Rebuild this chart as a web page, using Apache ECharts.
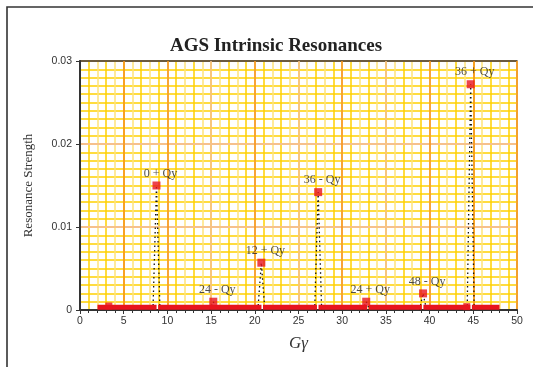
<!DOCTYPE html>
<html>
<head>
<meta charset="utf-8">
<script src="https://cdn.jsdelivr.net/npm/echarts@6/dist/echarts.min.js"></script>
<style>
html,body{margin:0;padding:0;background:#fff;overflow:hidden;}
#chart{width:533px;height:367px;}
</style>
</head>
<body>
<div id="chart"></div>
<script>
// ---- data ----
var peakNames = ['0 + Qy', '24 - Qy', '12 + Qy', '36 - Qy', '24 + Qy', '48 - Qy', '36 + Qy'];
var peakGg = [8.75, 15.25, 20.75, 27.25, 32.75, 39.25, 44.7];
var peakStrength = [0.0150, 0.0010, 0.0057, 0.0142, 0.0010, 0.0020, 0.0272];
var minorGg = [3.3, 44.25];
var minorStrength = [0.00048, 0.0004];
var bandStart = 2.0;
var bandEnd = 48.0;
var bandLevel = 0.00033;
var bandGaps = [8.85, 20.85, 27.2, 32.95, 39.2, 44.75];
var xTicks = [0, 5, 10, 15, 20, 25, 30, 35, 40, 45, 50];
var yTicks = [0, 0.01, 0.02, 0.03];

// ---- styles ----
var RED = '#E8141E';
var GOLD = '#FFD000', GOLD_LIGHT = '#FFE37A', ORANGE = '#F7941D', PEACH = '#F6C18C';
var spikeHalf = 0.4;

var chart = echarts.init(document.getElementById('chart'), null, {renderer: 'canvas'});

// band (red baseline strip) with gaps
var bandData = [];
var edges = [bandStart].concat(bandGaps).concat([bandEnd]);
for (var i = 0; i < edges.length - 1; i++) {
  var a = edges[i] + (i === 0 ? 0 : 0.09);
  var b = edges[i + 1] - (i === edges.length - 2 ? 0 : 0.09);
  bandData.push([a, bandLevel], [b, bandLevel]);
  if (i < edges.length - 2) bandData.push(['-', '-']);
}

var series = [];
// dotted spikes
for (var k = 0; k < peakGg.length; k++) {
  series.push({
    type: 'line', xAxisIndex: 0, yAxisIndex: 0, symbol: 'none', silent: true, z: 4,
    data: [[peakGg[k] - spikeHalf, 0], [peakGg[k], peakStrength[k]], [peakGg[k] + spikeHalf, 0]],
    lineStyle: {color: '#111', width: 1.3, type: [1.5, 3]}
  });
}
series.push({
  type: 'line', xAxisIndex: 0, yAxisIndex: 0, symbol: 'none', z: 5, connectNulls: false,
  data: bandData,
  lineStyle: {color: RED, width: 5, cap: 'butt'}
});
series.push({
  type: 'scatter', xAxisIndex: 0, yAxisIndex: 0, symbol: 'rect', symbolSize: 7, z: 6,
  data: minorGg.map(function (x, i) { return [x, minorStrength[i]]; }),
  itemStyle: {color: RED}
});
series.push({
  type: 'scatter', xAxisIndex: 0, yAxisIndex: 0, symbol: 'rect', symbolSize: 8, z: 7,
  data: peakGg.map(function (x, i) { return {value: [x, peakStrength[i]], name: peakNames[i]}; }),
  itemStyle: {color: RED},
  label: {
    show: true, position: 'top', distance: 2, offset: [4, 0],
    formatter: function (p) { return p.name; },
    fontFamily: 'Liberation Serif', fontSize: 12, color: '#222'
  }
});

var majorXColors = [ORANGE, ORANGE, ORANGE, PEACH, ORANGE, PEACH, ORANGE, PEACH, ORANGE, ORANGE, ORANGE];

chart.setOption({
  animation: false,
  backgroundColor: '#fff',
  title: {
    text: 'AGS Intrinsic Resonances', left: 271, textAlign: 'center', top: 32,
    textStyle: {fontFamily: 'Liberation Serif', fontWeight: 'bold', fontSize: 19, color: '#222'}
  },
  grid: {left: 80, right: 16, top: 61, bottom: 57, show: true, borderColor: '#6b5a3e', borderWidth: 1.5, backgroundColor: '#fff'},
  xAxis: [{
    type: 'value', min: xTicks[0], max: xTicks[xTicks.length - 1], interval: 5, z: 3,
    name: 'Gγ', nameLocation: 'middle', nameGap: 25,
    nameTextStyle: {fontFamily: 'Liberation Serif', fontStyle: 'italic', fontSize: 17, color: '#333'},
    axisLine: {show: true, onZero: false, lineStyle: {color: '#333', width: 2}},
    axisTick: {show: true, length: 4, lineStyle: {color: '#333'}},
    minorTick: {show: true, splitNumber: 5, length: 3, lineStyle: {color: '#333'}},
    axisLabel: {fontFamily: 'Liberation Sans', fontSize: 10.5, color: '#333', margin: 6},
    splitLine: {show: true, lineStyle: {color: majorXColors, width: 1.6}}
  }, {
    type: 'value', min: 0, max: 50, interval: 1, z: 1, position: 'top',
    axisLine: {show: false}, axisTick: {show: false}, axisLabel: {show: false},
    splitLine: {show: true, lineStyle: {color: [GOLD_LIGHT, GOLD], width: 1.5}}
  }],
  yAxis: [{
    type: 'value', min: yTicks[0], max: yTicks[yTicks.length - 1], interval: 0.01, z: 3,
    name: 'Resonance Strength', nameLocation: 'middle', nameGap: 45,
    nameTextStyle: {fontFamily: 'Liberation Serif', fontSize: 13, color: '#333'},
    axisLine: {show: true, onZero: false, lineStyle: {color: '#333', width: 2}},
    axisTick: {show: true, length: 4, lineStyle: {color: '#333'}},
    axisLabel: {fontFamily: 'Liberation Sans', fontSize: 10.5, color: '#333', margin: 8},
    splitLine: {show: true, lineStyle: {color: [PEACH, PEACH, PEACH, '#6b5a3e'], width: 2}}
  }, {
    type: 'value', min: 0, max: 0.03, interval: 0.001, z: 1, position: 'right',
    axisLine: {show: false}, axisTick: {show: false}, axisLabel: {show: false},
    splitLine: {show: true, lineStyle: {color: GOLD, width: 1.5}}
  }],
  graphic: [{
    type: 'polyline', z: 100, silent: true,
    shape: {points: [[7, 400], [7, 7], [600, 7]]},
    style: {fill: null, stroke: '#333', lineWidth: 1.6}
  }],
  series: series
});
</script>
</body>
</html>
